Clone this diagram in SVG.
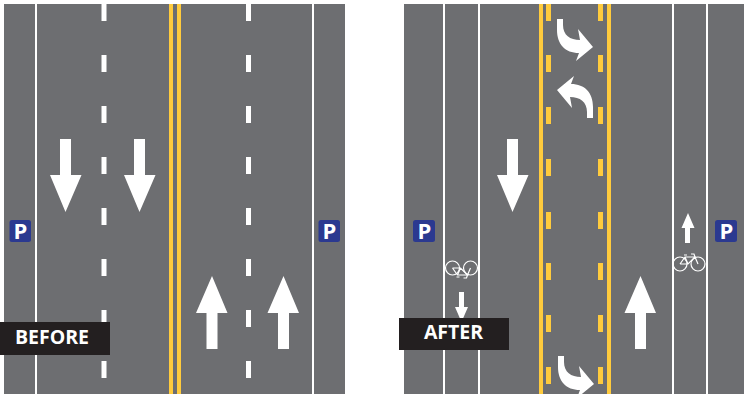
<svg xmlns="http://www.w3.org/2000/svg" width="744" height="394" viewBox="0 0 744 394">
<style>
.road{fill:#6d6e71}
.wl{fill:#fff}
.yl{fill:#ffcb3d}
.ar{fill:#fff}
.sign{fill:#2b3990}
.pt{font-family:"Open Sans","Liberation Sans",sans-serif;font-weight:700;font-size:22px;fill:#fff;text-anchor:middle}
.lb{fill:#231f20}
.lt{font-family:"Open Sans","Liberation Sans",sans-serif;font-weight:700;font-size:19.500px;fill:#fff;text-anchor:middle}
.bk{fill:none;stroke:#fff;stroke-width:1.200}
</style>
<defs>
<path id="big" d="M60 139H71V175H81.500L65.500 212L50 175H60Z"/>
<path id="turn" d="M557 19H563V25C563 35 570 40 580 40L578 29L593 47L576 61L579 53C565 53 557 44 557 30Z"/>
<rect id="d" x="0" y="0" width="5" height="17"/>
<g id="dashL"><use href="#d" y="4"/><use href="#d" y="55"/><use href="#d" y="106"/><use href="#d" y="157"/><use href="#d" y="208"/><use href="#d" y="259"/><use href="#d" y="310"/><use href="#d" y="361"/></g>
<g id="dashR"><use href="#d" y="4"/><use href="#d" y="55"/><use href="#d" y="107"/><use href="#d" y="159"/><use href="#d" y="212"/><use href="#d" y="263"/><use href="#d" y="315"/><use href="#d" y="367"/></g>
<g id="bike"><circle cx="-9" cy="2" r="7"/><circle cx="9" cy="2" r="7"/><path d="M-9 2L-4 -5H6L-1 2H-9M-4 -5L-1 2M6 -5L9 2M6 -5L5 -8H2M-5 -7H-2"/></g>
<clipPath id="cb"><rect x="500" y="0" width="200" height="57"/></clipPath>
</defs>
<g id="before-road">
<rect class="road" x="4" y="4" width="341" height="390"/>
<rect class="wl" x="35" y="4" width="2" height="390"/>
<rect class="wl" x="312" y="4" width="2" height="390"/>
<use href="#dashL" x="101.500" class="wl"/>
<use href="#dashL" x="246" class="wl"/>
<rect class="yl" x="169" y="4" width="4" height="390"/>
<rect class="yl" x="177" y="4" width="4" height="390"/>
<use href="#big" class="ar"/>
<use href="#big" class="ar" x="74"/>
<use href="#big" class="ar" transform="rotate(180 65.500 175.500) translate(-146.500 -137)"/>
<use href="#big" class="ar" transform="rotate(180 65.500 175.500) translate(-218 -137)"/>
</g>
<g id="before-p-left"><rect class="sign" x="9.500" y="220" width="21.500" height="22" rx="2.500"/><text class="pt" x="20.500" y="239">P</text></g>
<g id="before-p-right"><rect class="sign" x="318.500" y="220" width="21.500" height="22" rx="2.500"/><text class="pt" x="329.500" y="239">P</text></g>
<g id="before-label"><rect class="lb" x="0" y="322" width="110" height="33"/><text class="lt" x="52" y="344">BEFORE</text></g>
<g id="after-road">
<rect class="road" x="404" y="4" width="340" height="390"/>
<rect class="wl" x="443" y="4" width="2" height="390"/>
<rect class="wl" x="478" y="4" width="2" height="390"/>
<rect class="wl" x="672" y="4" width="2" height="390"/>
<rect class="wl" x="706" y="4" width="2" height="390"/>
<rect class="yl" x="539" y="4" width="4" height="390"/>
<rect class="yl" x="607" y="4" width="4" height="390"/>
<use href="#dashR" x="546" class="yl"/>
<use href="#dashR" x="598" class="yl"/>
<use href="#big" class="ar" x="447"/>
<use href="#big" class="ar" transform="rotate(180 65.500 175.500) translate(-575 -137)"/>
<use href="#turn" class="ar"/>
<use href="#turn" class="ar" transform="rotate(180 575 68.500)"/>
<path class="ar" transform="translate(1 337)" d="M557 19H563V25C563 35 570 40 580 40L578 29L593 47L576 61L579 53C565 53 557 44 557 30Z" clip-path="url(#cb)"/>
<path class="ar" d="M685 243V228H681.500L688 213L694.500 228H690V243Z"/>
<path class="ar" d="M459 292H464V307H468L461.500 322L455 307H459Z"/>
<use href="#bike" class="bk" transform="translate(689 262)"/>
<use href="#bike" class="bk" transform="translate(461.500 270) scale(1 -1)"/>
</g>
<g id="after-p-left"><rect class="sign" x="413" y="220" width="22" height="22" rx="2.500"/><text class="pt" x="424.500" y="239">P</text></g>
<g id="after-p-right"><rect class="sign" x="715" y="220" width="22" height="22" rx="2.500"/><text class="pt" x="726.500" y="239">P</text></g>
<g id="after-label"><rect class="lb" x="399" y="318" width="110" height="32"/><text class="lt" x="453.500" y="339">AFTER</text></g>
</svg>
